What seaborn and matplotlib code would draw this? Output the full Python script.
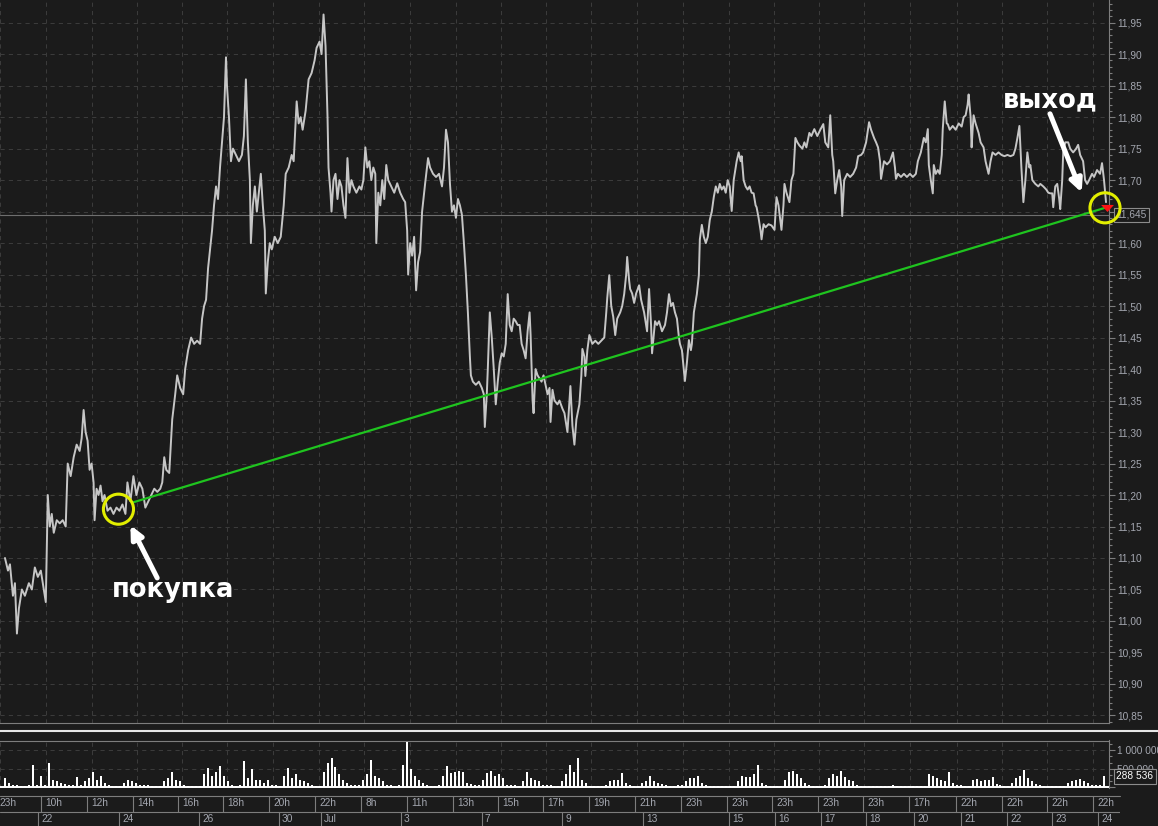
import matplotlib
matplotlib.use('Agg')
import numpy as np
import matplotlib.pyplot as plt
import matplotlib.ticker as mticker
from matplotlib.transforms import offset_copy, blended_transform_factory
from matplotlib.lines import Line2D
import seaborn as sns

# ---- price path (bar index, close) ----
price_bar = [
    0, 3, 5, 8, 10, 12, 14, 17, 20, 24, 27, 30, 33, 36, 39, 41, 43, 45, 47, 49,
    52, 55, 58, 61, 63, 66, 69, 72, 75, 77, 79, 81, 83, 85, 87, 89, 90, 92, 94, 96,
    98, 100, 103, 106, 109, 112, 115, 118, 121,
    123, 126, 129, 132, 135, 138, 141, 144, 147, 150, 153, 156, 158, 160, 162, 165, 168, 171, 173, 176,
    179, 181, 184, 187, 190, 193, 196, 198, 200, 202, 204, 206, 208, 210, 212, 214, 216, 218, 220,
    222, 223, 225, 227, 229, 232, 235, 238, 240, 242, 244, 246, 247, 249, 251, 253, 255, 257, 259, 261,
    262, 264, 266, 268, 271, 274, 277, 280, 282, 285, 288, 290, 293, 295, 297, 299, 302, 305, 308, 311,
    313, 316, 318, 320,
    322, 324, 325, 327, 328, 330, 332, 334, 336, 338, 340, 342, 344, 346, 348, 350, 353, 356, 358, 360,
    362, 364, 366, 368, 370, 372, 373, 375, 377, 379, 381, 383, 385, 388, 391, 394, 397, 400, 402, 404,
    405, 407, 409, 411, 413, 415, 417, 419,
    422, 425, 427, 430, 433, 436, 439, 441, 443, 445, 447, 449, 451, 453, 455, 457, 459, 461, 463, 465,
    467, 468, 470, 473, 476, 479, 481, 482, 484, 485, 487, 489, 491, 493, 495, 497, 499, 501, 503, 505,
    507, 509, 511, 513, 515, 517, 519,
    521, 523, 525, 527, 528, 530, 531, 533, 535, 537, 539, 541, 543, 545, 547, 548, 550, 552, 555, 557,
    560, 562, 565, 568, 570, 572, 574, 577, 579, 580, 582, 583, 585, 587, 590, 593, 596, 599, 602, 604,
    605, 607, 609, 611, 613, 615, 618, 620,
    622, 624, 625, 627, 628, 630, 632, 634, 637, 639, 642, 644, 645, 647, 649, 650, 652, 653, 655, 657,
    660, 663, 665, 667, 669, 671, 673, 675, 677, 678, 680, 683, 685, 687, 689, 690, 692, 694, 695, 697,
    698, 700, 702, 704, 706, 708, 710, 712, 714, 716, 718, 720,
    722, 724, 726, 728, 730, 732, 733, 735, 737, 739, 740, 742, 744, 746, 748, 750, 752, 754, 755, 757,
    759, 760, 762, 764, 767, 770, 773, 775, 777, 780, 782, 783, 785, 788, 790, 792, 794, 796, 798, 801,
    803, 805, 808, 810, 813, 816, 819,
    822, 824, 827, 829, 831, 832, 834, 836, 838, 840, 841, 843, 846, 849, 852, 855, 857, 860, 862, 865,
    868, 870, 873, 875, 877, 879, 880, 882, 883, 886, 889, 892, 894, 895, 897, 900, 903, 906, 909, 912,
    915, 917, 920,
    923, 925, 927, 928, 930, 932, 933, 935, 937, 939, 941, 942, 944, 946, 947, 949, 952, 955, 958, 961,
    963, 965, 967, 968, 970, 971, 972, 973, 975, 978, 980, 983, 985, 988, 990, 992, 995, 998, 1001, 1004,
    1007, 1010, 1013, 1015, 1017, 1019,
    1021, 1023, 1025, 1027, 1029, 1030, 1032, 1035, 1038, 1040, 1043, 1046, 1048, 1050, 1052, 1053, 1055,
    1057, 1059, 1060, 1062, 1063, 1065, 1068, 1070, 1073, 1076, 1078, 1080, 1083, 1085, 1087, 1089, 1092,
    1094, 1097, 1100, 1102, 1104, 1106,
]
price_close = [
    11.10, 11.08, 11.09, 11.04, 11.06, 10.98, 11.02, 11.05, 11.04, 11.06, 11.05, 11.085, 11.07, 11.08, 11.05, 11.03, 11.20, 11.15, 11.17, 11.14,
    11.16, 11.155, 11.16, 11.15, 11.25, 11.23, 11.26, 11.28, 11.27, 11.29, 11.335, 11.30, 11.286, 11.24, 11.25, 11.22, 11.16, 11.21, 11.20, 11.215,
    11.19, 11.20, 11.175, 11.18, 11.17, 11.18, 11.175, 11.185, 11.17,
    11.22, 11.19, 11.23, 11.20, 11.22, 11.21, 11.18, 11.19, 11.20, 11.21, 11.205, 11.21, 11.22, 11.26, 11.24, 11.235, 11.32, 11.36, 11.39, 11.37,
    11.36, 11.40, 11.43, 11.45, 11.44, 11.445, 11.44, 11.48, 11.50, 11.51, 11.56, 11.59, 11.62, 11.66, 11.69, 11.67, 11.72, 11.76, 11.80,
    11.895, 11.85, 11.80, 11.73, 11.75, 11.74, 11.73, 11.74, 11.77, 11.86, 11.76, 11.70, 11.60, 11.66, 11.69, 11.65, 11.68, 11.71, 11.66, 11.62,
    11.52, 11.57, 11.60, 11.59, 11.61, 11.60, 11.61, 11.66, 11.71, 11.72, 11.74, 11.73, 11.825, 11.79, 11.80, 11.78, 11.81, 11.86, 11.87, 11.89,
    11.91, 11.92, 11.90, 11.963,
    11.913, 11.80, 11.72, 11.68, 11.65, 11.70, 11.71, 11.67, 11.70, 11.69, 11.66, 11.64, 11.735, 11.68, 11.70, 11.69, 11.68, 11.69, 11.685, 11.70,
    11.752, 11.72, 11.73, 11.70, 11.72, 11.71, 11.60, 11.68, 11.66, 11.70, 11.67, 11.724, 11.70, 11.69, 11.68, 11.695, 11.68, 11.67, 11.665, 11.62,
    11.55, 11.60, 11.58, 11.61, 11.525, 11.57, 11.586, 11.65,
    11.694, 11.735, 11.72, 11.71, 11.705, 11.71, 11.69, 11.72, 11.78, 11.76, 11.694, 11.65, 11.66, 11.64, 11.67, 11.66, 11.645, 11.60, 11.55, 11.49,
    11.42, 11.39, 11.38, 11.375, 11.38, 11.37, 11.36, 11.308, 11.36, 11.40, 11.49, 11.45, 11.40, 11.344, 11.38, 11.41, 11.425, 11.42, 11.44, 11.519,
    11.47, 11.46, 11.48, 11.476, 11.47, 11.47, 11.44,
    11.43, 11.417, 11.46, 11.49, 11.454, 11.35, 11.33, 11.40, 11.39, 11.385, 11.38, 11.39, 11.375, 11.36, 11.37, 11.316, 11.367, 11.35, 11.344, 11.35,
    11.337, 11.33, 11.30, 11.373, 11.31, 11.28, 11.32, 11.344, 11.39, 11.432, 11.42, 11.389, 11.43, 11.454, 11.44, 11.445, 11.44, 11.445, 11.45, 11.49,
    11.513, 11.549, 11.50, 11.483, 11.454, 11.48, 11.49, 11.50,
    11.519, 11.55, 11.578, 11.54, 11.527, 11.52, 11.505, 11.52, 11.533, 11.51, 11.49, 11.47, 11.46, 11.527, 11.47, 11.425, 11.46, 11.476, 11.47, 11.476,
    11.46, 11.47, 11.49, 11.519, 11.50, 11.505, 11.49, 11.48, 11.45, 11.44, 11.43, 11.381, 11.41, 11.446, 11.43, 11.44, 11.49, 11.51, 11.519, 11.549,
    11.606, 11.629, 11.61, 11.60, 11.61, 11.637, 11.65, 11.673, 11.69, 11.68, 11.694, 11.685,
    11.69, 11.68, 11.70, 11.69, 11.651, 11.70, 11.71, 11.73, 11.744, 11.73, 11.738, 11.70, 11.69, 11.685, 11.69, 11.68, 11.679, 11.66, 11.657, 11.64,
    11.62, 11.606, 11.63, 11.625, 11.63, 11.628, 11.621, 11.673, 11.66, 11.621, 11.66, 11.694, 11.68, 11.665, 11.70, 11.71, 11.767, 11.76, 11.755, 11.75,
    11.76, 11.752, 11.775, 11.77, 11.781, 11.77, 11.78,
    11.789, 11.76, 11.752, 11.803, 11.74, 11.73, 11.679, 11.70, 11.716, 11.69, 11.643, 11.70, 11.71, 11.705, 11.71, 11.72, 11.738, 11.74, 11.744, 11.76,
    11.792, 11.78, 11.767, 11.76, 11.752, 11.73, 11.702, 11.72, 11.73, 11.725, 11.73, 11.744, 11.72, 11.702, 11.71, 11.705, 11.71, 11.705, 11.71, 11.705,
    11.71, 11.73, 11.744,
    11.767, 11.76, 11.781, 11.724, 11.70, 11.679, 11.724, 11.71, 11.716, 11.71, 11.74, 11.781, 11.825, 11.79, 11.789, 11.78, 11.786, 11.78, 11.79, 11.785,
    11.80, 11.803, 11.82, 11.836, 11.80, 11.752, 11.78, 11.803, 11.79, 11.775, 11.76, 11.752, 11.73, 11.71, 11.73, 11.744, 11.74, 11.744, 11.74, 11.738,
    11.74, 11.738, 11.74, 11.75, 11.767, 11.786,
    11.72, 11.665, 11.70, 11.744, 11.72, 11.724, 11.70, 11.694, 11.69, 11.694, 11.69, 11.685, 11.68, 11.679, 11.679, 11.657, 11.69,
    11.694, 11.67, 11.654, 11.70, 11.744, 11.76, 11.760, 11.75, 11.744, 11.75, 11.756, 11.74, 11.730, 11.70, 11.694, 11.70, 11.71,
    11.705, 11.716, 11.71, 11.727, 11.70, 11.665,
]

# volume, thousands, one value per 4 bars
vol_k = [
    250, 120, 60, 40, 30, 30, 40, 590, 60, 290,
    50, 660, 200, 150, 120, 80, 60, 50, 270, 60,
    150, 250, 420, 200, 300, 100, 40, 30, 20, 20,
    100, 180, 150, 120, 40, 60, 40, 30, 30, 30,
    150, 250, 420, 200, 150, 60, 20, 20, 30, 20,
    350, 520, 300, 420, 580, 300, 150, 40, 30, 40,
    720, 250, 480, 200, 180, 120, 200, 60, 40, 30,
    300, 510, 250, 350, 200, 150, 100, 40, 30, 30,
    400, 650, 800, 550, 350, 200, 120, 60, 50, 40,
    200, 350, 730, 300, 250, 150, 60, 40, 30, 50,
    600, 1230, 500, 300, 200, 100, 40, 30, 30, 60,
    300, 570, 380, 400, 440, 420, 120, 80, 40, 60,
    200, 380, 430, 300, 350, 250, 60, 40, 40, 30,
    150, 410, 250, 200, 150, 60, 50, 40, 30, 30,
    150, 350, 600, 400, 780, 200, 100, 30, 30, 20,
    30, 40, 150, 200, 180, 380, 120, 60, 30, 20,
    100, 150, 290, 150, 120, 80, 40, 30, 30, 40,
    60, 150, 230, 250, 300, 120, 40, 30, 20, 20,
    20, 20, 20, 30, 150, 300, 260, 280, 350, 600,
    120, 60, 30, 20, 20, 30, 200, 400, 440, 350,
    250, 100, 40, 30, 20, 30, 40, 250, 350, 300,
    440, 280, 200, 150, 60, 30, 20, 20, 20, 30,
    20, 20, 20, 40, 20, 20, 20, 20, 20, 20,
    20, 20, 350, 300, 250, 200, 150, 420, 120, 60,
    40, 30, 20, 200, 220, 160, 180, 200, 260, 80,
    40, 30, 20, 100, 250, 300, 470, 250, 150, 80,
    40, 30, 20, 20, 20, 20, 30, 100, 150, 200,
    220, 150, 100, 60, 50, 40, 288.536,
]
vol_bar = np.arange(0, 4 * len(vol_k), 4)

# trade
entry_bar, entry_price = 128, 11.188
exit_bar, exit_price = 1105, 11.656
buy_mark_bar, buy_mark_price = 114, 11.1775
last_price = 11.645
last_volume = 288536

# time axis
hour_pos = [-5, 41, 87, 133, 178, 223, 269, 315, 361, 407, 453, 498, 543, 589,
            635, 681, 727, 772, 818, 863, 909, 956, 1002, 1047, 1093]
hour_lbl = ['23h', '10h', '12h', '14h', '16h', '18h', '20h', '22h', '8h', '11h', '13h', '15h',
            '17h', '19h', '21h', '23h', '23h', '23h', '23h', '23h', '17h', '22h', '22h', '22h', '22h']
day_pos = [38, 119, 199, 279, 321, 401, 482, 562, 643, 729, 775, 821, 866, 914, 961, 1007, 1052, 1098]
day_lbl = ['22', '24', '26', '30', 'Jul', '3', '7', '9', '13', '15', '16', '17', '18', '20', '21',
           '22', '23', '24']

BG = '#1b1b1b'
GRID = '#3b3b3b'
FRAME = '#7d7d7d'
LABEL = '#a4a7b0'
PRICE = '#c6c6c6'
GREEN = '#1fc41f'
YELLOW = '#e2ee00'

sns.set_style('dark', {'axes.facecolor': BG, 'figure.facecolor': BG})
plt.rcParams['font.family'] = ['Liberation Sans', 'DejaVu Sans']

W, H = 1158, 826
def rect(x0, y0, x1, y1):
    return [x0 / W, 1 - y1 / H, (x1 - x0) / W, (y1 - y0) / H]

fig = plt.figure(figsize=(W / 100, H / 100), dpi=100, facecolor=BG)
ax = fig.add_axes(rect(0, 0, 1108.5, 723))
axv = fig.add_axes(rect(0, 740.5, 1108.5, 788))
axt = fig.add_axes(rect(0, 796, 1120, 826))

dash = (0, (4, 4))

def price_fmt(v, _):
    # the last-price box hides the 11,65 label
    if abs(v - 11.65) < 1e-6:
        return ''
    return f'{v:.2f}'.replace('.', ',')

# ---- price panel ----
ax.set_facecolor(BG)
sns.lineplot(x=price_bar, y=price_close, ax=ax, color=PRICE, lw=1.4,
             estimator=None, sort=False, zorder=3)
sns.lineplot(x=[entry_bar, exit_bar], y=[entry_price, exit_price], ax=ax,
             color=GREEN, lw=1.6, estimator=None, zorder=4)
ax.axhline(last_price, color='#6e6e6e', lw=0.8, zorder=2)

ax.set_xlim(0, 1108.5)
ax.set_ylim(10.838, 11.986)
ax.set_xticks(hour_pos)
ax.tick_params(axis='x', length=0, labelbottom=False)
ax.yaxis.tick_right()
ax.yaxis.set_major_locator(mticker.MultipleLocator(0.05))
ax.yaxis.set_minor_locator(mticker.MultipleLocator(0.01))
ax.yaxis.set_major_formatter(mticker.FuncFormatter(price_fmt))
ax.tick_params(axis='y', which='major', direction='out', length=4.2, width=0.8,
               color=FRAME, labelcolor=LABEL, labelsize=7.3, pad=2)
ax.tick_params(axis='y', which='minor', direction='out', length=2, width=0.8, color=FRAME)
ax.grid(True, which='major', color=GRID, lw=0.75, linestyle=dash)
ax.set_xlabel('')
ax.set_ylabel('')
for s in ['left', 'top']:
    ax.spines[s].set_visible(False)
for s in ['right', 'bottom']:
    ax.spines[s].set_color(FRAME)
    ax.spines[s].set_linewidth(0.8)

ytrans = blended_transform_factory(ax.transAxes, ax.transData)
ax.text(1.0072, last_price, f'{last_price:.3f}'.replace('.', ','), transform=ytrans,
        ha='left', va='center', color=LABEL, fontsize=7.3, zorder=6,
        bbox=dict(boxstyle='square,pad=0.22', fc=BG, ec='#8c8c8c', lw=0.8))

# circles and exit marker
ax.scatter([buy_mark_bar], [buy_mark_price], s=470, facecolors='none',
           edgecolors=YELLOW, linewidths=2.2, zorder=6, clip_on=False)
ax.scatter([exit_bar], [exit_price], s=470, facecolors='none',
           edgecolors=YELLOW, linewidths=2.2, zorder=6, clip_on=False)
ax.scatter([exit_bar + 1.5], [exit_price], marker=[(-1, 0.55), (1, 0.55), (0, -0.55)],
           s=85, color='#ff1414', linewidths=0, zorder=7, clip_on=False)

def pt_shift(dx, dy):
    return offset_copy(ax.transData, fig=fig, x=dx, y=dy, units='points')

arrow = dict(arrowstyle='-|>,head_length=0.75,head_width=0.36', color='white',
             lw=3.6, shrinkA=0, shrinkB=0, mutation_scale=10)
ax.annotate('', xy=(buy_mark_bar, buy_mark_price), xycoords=pt_shift(8.6, -11.5),
            xytext=(19.3, -38), textcoords='offset points', arrowprops=arrow,
            annotation_clip=False)
ax.annotate('', xy=(exit_bar, exit_price), xycoords=pt_shift(-16.8, 11.0),
            xytext=(-22.8, 56.7), textcoords='offset points', arrowprops=arrow,
            annotation_clip=False)
ax.text(buy_mark_bar, buy_mark_price, 'покупка', transform=pt_shift(39.1, -63.4),
        ha='center', va='baseline', color='white', fontsize=18.5,
        fontweight='bold', family='DejaVu Sans', zorder=8)
ax.text(exit_bar, exit_price, 'выход', transform=pt_shift(-39.4, 72.6),
        ha='center', va='baseline', color='white', fontsize=18.5,
        fontweight='bold', family='DejaVu Sans', zorder=8)

# ---- volume panel ----
axv.set_facecolor(BG)
axv.bar(vol_bar, np.array(vol_k) * 1000, width=2.0, color='white', lw=0, zorder=3)
axv.axhline(0, color='white', lw=1.4, zorder=4)
axv.set_xlim(0, 1108.5)
axv.set_ylim(-30000, 1270000)
axv.set_xticks(hour_pos)
axv.tick_params(axis='x', length=0, labelbottom=False)
axv.yaxis.tick_right()
axv.yaxis.set_major_locator(mticker.MultipleLocator(500000))
axv.yaxis.set_minor_locator(mticker.MultipleLocator(500000 / 3))
axv.yaxis.set_major_formatter(mticker.FuncFormatter(
    lambda v, _: f'{v:,.0f}'.replace(',', ' ') if v > 0 else ''))
axv.tick_params(axis='y', which='major', direction='out', length=4.2, width=0.8,
                color=FRAME, labelcolor=LABEL, labelsize=7.3, pad=2)
axv.tick_params(axis='y', which='minor', direction='out', length=2, width=0.8, color=FRAME)
axv.grid(True, which='major', color=GRID, lw=0.75, linestyle=dash)
for s in ['left', 'bottom']:
    axv.spines[s].set_visible(False)
for s in ['right', 'top']:
    axv.spines[s].set_color(FRAME)
    axv.spines[s].set_linewidth(0.8)
vtrans = blended_transform_factory(axv.transAxes, axv.transData)
axv.text(1.0072, last_volume, f'{last_volume:,}'.replace(',', ' '), transform=vtrans,
         ha='left', va='center', color='white', fontsize=7.3, zorder=6,
         bbox=dict(boxstyle='square,pad=0.22', fc=BG, ec='#8c8c8c', lw=0.8))

# separator between panels
fig.add_artist(Line2D([0, 1], [1 - 731 / H] * 2, transform=fig.transFigure,
                      color='#e6e6e6', lw=1.5))

# ---- time strip ----
axt.set_facecolor(BG)
axt.set_xlim(0, 1120)
axt.set_ylim(0, 2)
axt.axis('off')
row = 0.955
axt.axhline(2, color=FRAME, lw=0.8, clip_on=False)
axt.axhline(row, color=FRAME, lw=0.8)
axt.vlines(hour_pos, row, 2, color=FRAME, lw=0.8)
axt.vlines(day_pos, 0, row, color=FRAME, lw=0.8)
for p, lbl in zip(hour_pos, hour_lbl):
    axt.text(p + 4, 1.5, lbl, ha='left', va='center', color=LABEL, fontsize=7.3, clip_on=True)
for p, lbl in zip(day_pos, day_lbl):
    axt.text(p + 3, 0.45, lbl, ha='left', va='center', color=LABEL, fontsize=7.3, clip_on=True)

fig.savefig('out.png', dpi=100, facecolor=BG)
